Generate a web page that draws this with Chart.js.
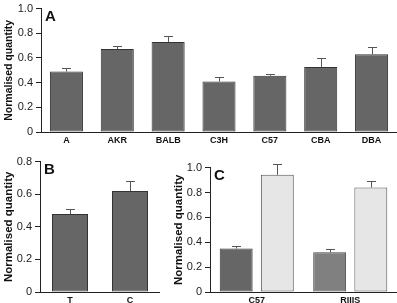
<!DOCTYPE html>
<html>
<head>
<meta charset="utf-8">
<script src="https://cdn.jsdelivr.net/npm/chart.js@4"></script>
<style>
body { margin: 0; background: #fff; width: 397px; height: 303px; overflow: hidden; position: relative; }
.panel { position: absolute; }
</style>
</head>
<body>
<div class="panel" style="left:1px;top:-1px;width:396px;height:151px"><canvas id="chartA"></canvas></div>
<div class="panel" style="left:0;top:152px;width:160px;height:151px"><canvas id="chartB"></canvas></div>
<div class="panel" style="left:172px;top:158px;width:225px;height:145px"><canvas id="chartC"></canvas></div>
<script>
// panel A: strains
const STRAINS = ['A', 'AKR', 'BALB', 'C3H', 'C57', 'CBA', 'DBA'];
const STRAIN_MEANS = [0.49, 0.672, 0.73, 0.41, 0.456, 0.527, 0.63];
const STRAIN_ERR = [0.026, 0.026, 0.05, 0.038, 0.016, 0.071, 0.058];

// panel B
const TISSUES = ['T', 'C'];
const TISSUE_MEANS = [0.478, 0.62];
const TISSUE_ERR = [0.033, 0.061];

// panel C
const LINES = ['C57', 'RIIIS'];
const DARK_MEANS = [0.35, 0.319];
const DARK_ERR = [0.019, 0.023];
const LIGHT_MEANS = [0.942, 0.84];
const LIGHT_ERR = [0.084, 0.052];

const TICKS_10 = [0, 0.2, 0.4, 0.6, 0.8, 1.0];
const TICK_LABELS_10 = ['0', '0.2', '0.4', '0.6', '0.8', '1.0'];
const TICKS_08 = [0, 0.2, 0.4, 0.6, 0.8];
const TICK_LABELS_08 = ['0', '0.2', '0.4', '0.6', '0.8'];

Chart.defaults.font.family = "'Liberation Sans', Arial, sans-serif";
Chart.defaults.color = '#222';
Chart.defaults.animation = false;

const errorBars = {
    id: 'errorBars',
    afterDatasetsDraw(chart) {
        const ctx = chart.ctx;
        const y = chart.scales.y;
        chart.data.datasets.forEach((ds, i) => {
            if (!ds.err) return;
            chart.getDatasetMeta(i).data.forEach((bar, j) => {
                const x = Math.round(bar.x) + 0.5;
                const top = Math.round(y.getPixelForValue(ds.data[j] + ds.err[j])) + 0.5;
                ctx.save();
                ctx.strokeStyle = ds.errColor;
                ctx.lineWidth = 1;
                ctx.beginPath();
                ctx.moveTo(x, bar.y);
                ctx.lineTo(x, top);
                ctx.moveTo(x - 4.5, top);
                ctx.lineTo(x + 4.5, top);
                ctx.stroke();
                ctx.restore();
            });
        });
    }
};

const panelLabel = {
    id: 'panelLabel',
    afterDraw(chart, args, opts) {
        const ctx = chart.ctx;
        ctx.save();
        ctx.font = "bold 15px 'Liberation Sans', Arial, sans-serif";
        ctx.fillStyle = '#111';
        ctx.textBaseline = 'alphabetic';
        ctx.fillText(opts.text, chart.chartArea.left + 4, chart.chartArea.top + 12);
        ctx.restore();
    }
};

function makeOptions(letter, ticks, labels, yWidth, titleSize, titlePad, xHeight) {
    return {
        responsive: true,
        maintainAspectRatio: false,
        layout: { padding: 0 },
        plugins: {
            legend: { display: false },
            tooltip: { enabled: false },
            panelLabel: { text: letter },
        },
        scales: {
            x: {
                grid: { display: false, drawTicks: false },
                border: { display: true, color: '#222', width: 1 },
                ticks: { font: { size: 9, weight: 'bold' }, padding: 3, color: '#111', maxRotation: 0, autoSkip: false },
                afterFit: s => { s.height = xHeight; },
            },
            y: {
                min: 0,
                max: ticks[ticks.length - 1],
                afterBuildTicks: s => { s.ticks = ticks.map(v => ({ value: v })); },
                grid: { display: true, drawOnChartArea: false, drawTicks: true, tickLength: 5, color: '#222' },
                border: { display: true, color: '#222', width: 1 },
                ticks: { font: { size: 11 }, padding: 3, callback: (v, i) => labels[i] },
                title: {
                    display: true,
                    text: 'Normalised quantity',
                    font: { size: titleSize, weight: 'bold' },
                    color: '#111',
                    padding: { top: titlePad, bottom: 0 },
                },
                afterFit: s => { s.width = yWidth; },
            },
        },
    };
}

new Chart(document.getElementById('chartA'), {
    type: 'bar',
    data: {
        labels: STRAINS,
        datasets: [{
            data: STRAIN_MEANS,
            err: STRAIN_ERR,
            errColor: '#555',
            backgroundColor: '#666',
            borderColor: '#333',
            borderWidth: 1,
            borderSkipped: false,
            barPercentage: 0.65,
            categoryPercentage: 1,
        }],
    },
    options: makeOptions('A', TICKS_10, TICK_LABELS_10, 40, 10.5, 2, 18),
    plugins: [errorBars, panelLabel],
});

new Chart(document.getElementById('chartB'), {
    type: 'bar',
    data: {
        labels: TISSUES,
        datasets: [{
            data: TISSUE_MEANS,
            err: TISSUE_ERR,
            errColor: '#555',
            backgroundColor: '#666',
            borderColor: '#333',
            borderWidth: 1,
            borderSkipped: false,
            barPercentage: 0.6,
            categoryPercentage: 1,
        }],
    },
    options: makeOptions('B', TICKS_08, TICK_LABELS_08, 40, 11.5, 2, 11),
    plugins: [errorBars, panelLabel],
});

new Chart(document.getElementById('chartC'), {
    type: 'bar',
    data: {
        labels: LINES,
        datasets: [{
            data: DARK_MEANS,
            err: DARK_ERR,
            errColor: '#555',
            backgroundColor: ['#666', '#808080'],
            borderColor: ['#333', '#444'],
            borderWidth: 1,
            borderSkipped: false,
            barPercentage: 0.8,
            categoryPercentage: 0.88,
        }, {
            data: LIGHT_MEANS,
            err: LIGHT_ERR,
            errColor: '#555',
            backgroundColor: '#e6e6e6',
            borderColor: '#555',
            borderWidth: 1,
            borderSkipped: false,
            barPercentage: 0.8,
            categoryPercentage: 0.88,
        }],
    },
    options: makeOptions('C', TICKS_10, TICK_LABELS_10, 38, 11.5, 0, 11),
    plugins: [errorBars, panelLabel],
});
</script>
</body>
</html>
